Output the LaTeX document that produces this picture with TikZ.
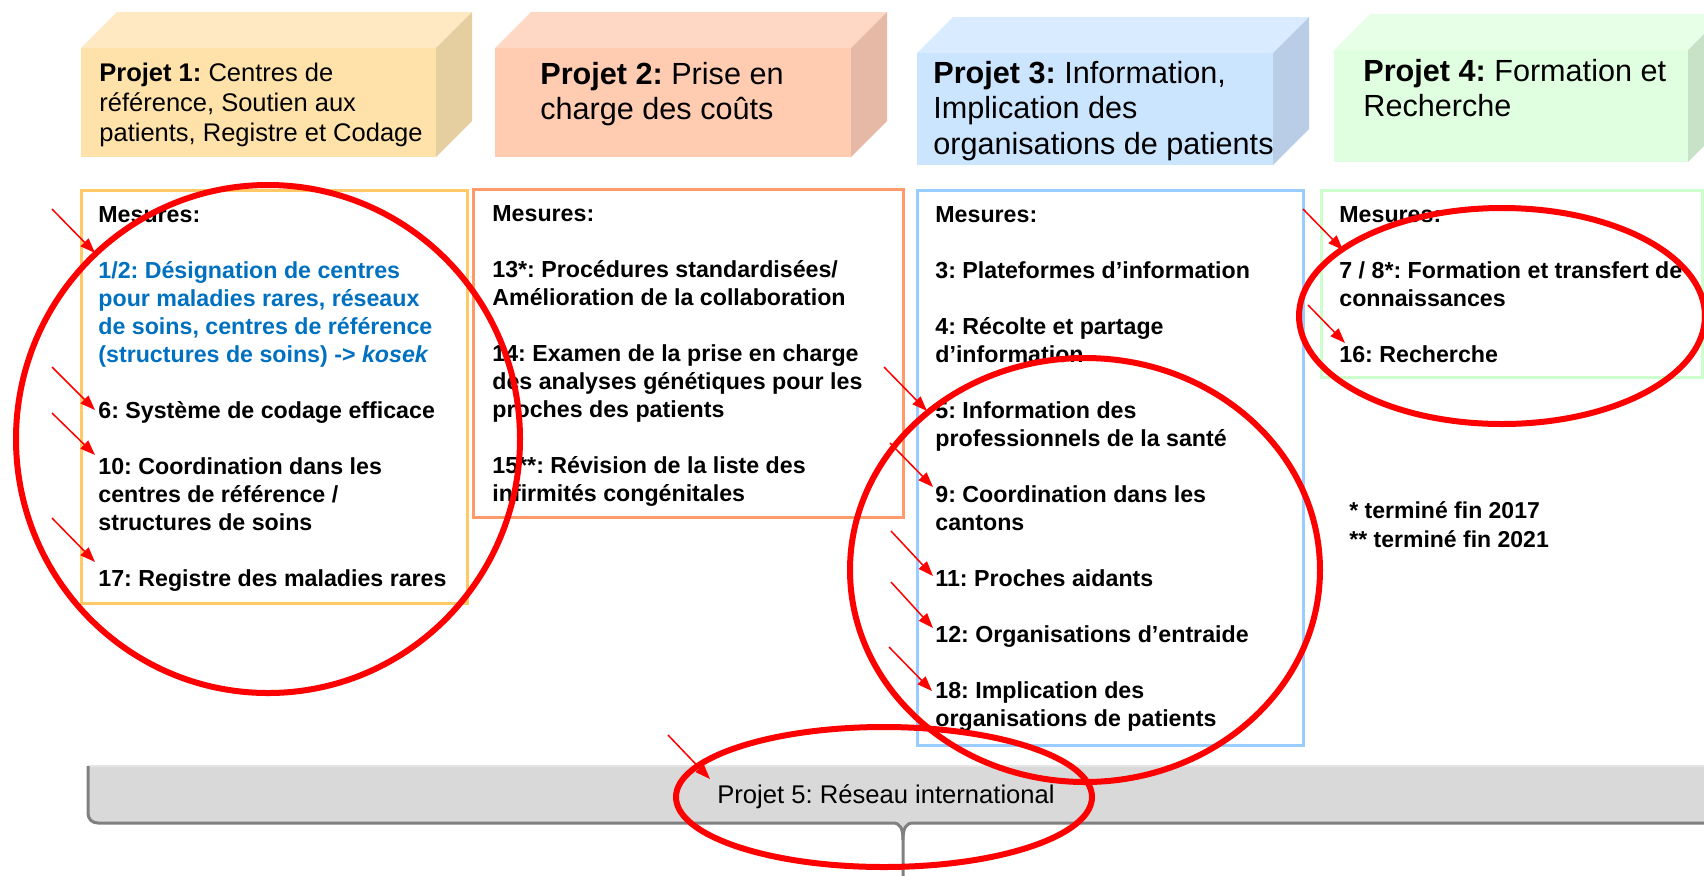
\documentclass[tikz,border=0pt]{standalone}
\usepackage{fontspec}
\setmainfont{Liberation Sans}
\frenchspacing
\usetikzlibrary{arrows.meta}
\definecolor{pAfront}{HTML}{FFE2A9}
\definecolor{pAtop}{HTML}{FFE9C2}
\definecolor{pAside}{HTML}{E5CFA1}
\definecolor{pBfront}{HTML}{FFCCB2}
\definecolor{pBtop}{HTML}{FFD8C5}
\definecolor{pBside}{HTML}{E5B9A6}
\definecolor{pCfront}{HTML}{CCE5FF}
\definecolor{pCtop}{HTML}{D9EBFF}
\definecolor{pCside}{HTML}{B9CEE6}
\definecolor{pDfront}{HTML}{E0FFE0}
\definecolor{pDtop}{HTML}{E6FFE6}
\definecolor{pDside}{HTML}{C8E2C8}
\definecolor{bordA}{HTML}{FFC966}
\definecolor{bordB}{HTML}{FF9B6A}
\definecolor{bordC}{HTML}{99CCFF}
\definecolor{bordD}{HTML}{CCFFCC}
\definecolor{blueT}{HTML}{0070C0}
\definecolor{barfill}{HTML}{D9D9D9}
\definecolor{barline}{HTML}{808080}
\definecolor{redA}{HTML}{FF0000}
\begin{document}
\begin{tikzpicture}[x=0.5pt,y=-0.5pt,
  meas/.style={anchor=base west, inner sep=0pt, align=left, font=\fontsize{11.6}{14}\selectfont\bfseries},
  titleA/.style={anchor=base west, inner sep=0pt, align=left, font=\fontsize{12.75}{15}\selectfont},
  titleB/.style={anchor=base west, inner sep=0pt, align=left, font=\fontsize{15.3}{17.75}\selectfont},
  mbox/.style={line width=1.5pt},
  redarrow/.style={draw=redA, line width=0.75pt, -{Triangle[length=7.5pt,width=5.5pt]}},
  redring/.style={draw=redA, line width=3pt}]
\useasboundingbox (0,0) rectangle (1704,875);
\clip (0,0) rectangle (1704,875);

% ---- Project title blocks (3D boxes)
\fill[pAtop] (81,48) -- (117,12) -- (472,12) -- (436,48) -- cycle;
\fill[pAside] (436,48) -- (472,12) -- (472,121) -- (436,157) -- cycle;
\fill[pAfront] (81,48) rectangle (436,157);

\fill[pBtop] (495,48) -- (531,12) -- (887,12) -- (851,48) -- cycle;
\fill[pBside] (851,48) -- (887,12) -- (887,121) -- (851,157) -- cycle;
\fill[pBfront] (495,48) rectangle (851,157);

\fill[pCtop] (917,53) -- (953,17) -- (1309,17) -- (1273,53) -- cycle;
\fill[pCside] (1273,53) -- (1309,17) -- (1309,129) -- (1273,165) -- cycle;
\fill[pCfront] (917,53) rectangle (1273,165);

\fill[pDtop] (1334,50) -- (1370,14) -- (1724,14) -- (1688,50) -- cycle;
\fill[pDside] (1688,50) -- (1724,14) -- (1724,126) -- (1688,162) -- cycle;
\fill[pDfront] (1334,50) rectangle (1688,162);

% anchors are at the baseline of the LAST line of each node
\node[titleA] (t1) at (99,141) {\textbf{Projet 1:} Centres de\\référence, Soutien aux\\patients, Registre et Codage};
\node[titleB] (t2) at (540,119.5) {\textbf{Projet 2:} Prise en\\charge des coûts};
\node[titleB] (t3) at (933,154) {\textbf{Projet 3:} Information,\\Implication des\\organisations de patients};
\node[titleB] (t4) at (1363,116.5) {\textbf{Projet 4:} Formation et\\Recherche};

% ---- Measure boxes
\draw[mbox, draw=bordA] (81,190) rectangle (467,603);
\draw[mbox, draw=bordB] (473,189) rectangle (903,517);
\draw[mbox, draw=bordC] (917,190) rectangle (1303,745);
\draw[mbox, draw=bordD] (1321,190) rectangle (1702,377);

\node[meas] (m1) at (98,586) {Mesures:\\[14pt]
{\color{blueT}1/2: Désignation de centres}\\
{\color{blueT}pour maladies rares, réseaux}\\
{\color{blueT}de soins, centres de référence}\\
{\color{blueT}(structures de soins) -> \textit{kosek}}\\[14pt]
6: Système de codage efficace\\[14pt]
10: Coordination dans les\\
centres de référence /\\
structures de soins\\[14pt]
17: Registre des maladies rares};

\node[meas] (m2) at (492,501) {Mesures:\\[14pt]
13*: Procédures standardisées/\\
Amélioration de la collaboration\\[14pt]
14: Examen de la prise en charge\\
des analyses génétiques pour les\\
proches des patients\\[14pt]
15**: Révision de la liste des\\
infirmités congénitales};

\node[meas] (m3) at (935,726) {Mesures:\\[14pt]
3: Plateformes d’information\\[14pt]
4: Récolte et partage\\
d’information\\[14pt]
5: Information des\\
professionnels de la santé\\[14pt]
9: Coordination dans les\\
cantons\\[14pt]
11: Proches aidants\\[14pt]
12: Organisations d’entraide\\[14pt]
18: Implication des\\
organisations de patients};

\node[meas] (m4) at (1339,362) {Mesures:\\[14pt]
7 / 8*: Formation et transfert de\\
connaissances\\[14pt]
16: Recherche};

\node[meas, font=\fontsize{11.5}{14.5}\selectfont\bfseries] (fn) at (1349,547) {* terminé fin 2017\\** terminé fin 2021};

% ---- Bottom bracket (Projet 5)
\fill[barfill] (88,766) -- (88,813) .. controls (88,819) and (92,823) .. (98,823)
  -- (893,823) .. controls (900,823) and (903,828) .. (903,840)
  .. controls (903,828) and (906,823) .. (913,823) -- (1712,823) -- (1712,766) -- cycle;
\draw[draw=white!90!black, line width=0.8pt] (88,766) -- (1712,766);
\draw[draw=barline, line width=1.5pt] (88,766) -- (88,813) .. controls (88,819) and (92,823) .. (98,823)
  -- (893,823) .. controls (900,823) and (903,828) .. (903,840) -- (903,880);
\draw[draw=barline, line width=1.5pt] (903,840) .. controls (903,828) and (906,823) .. (913,823) -- (1712,823);
\node[anchor=base, inner sep=0pt, font=\fontsize{12.8}{15}\selectfont] (p5) at (886,803) {Projet 5: Réseau international};

% ---- Red annotations
\draw[redring] (268,439) ellipse [x radius=126pt, y radius=127pt];
\draw[redring] (1085,570) ellipse [x radius=117.5pt, y radius=106pt];
\draw[redring] (1502,316) ellipse [x radius=101.5pt, y radius=54pt];
\draw[redring] (884,797) ellipse [x radius=104pt, y radius=35pt];

\coordinate (a1s) at (52,209);   \coordinate (a1e) at (95,253);
\coordinate (a2s) at (52,367);   \coordinate (a2e) at (95,410);
\coordinate (a3s) at (52,413);   \coordinate (a3e) at (95,455);
\coordinate (a4s) at (52,518);   \coordinate (a4e) at (95,562);
\coordinate (a5s) at (884,367);  \coordinate (a5e) at (927,411);
\coordinate (a6s) at (890,443);  \coordinate (a6e) at (933,487);
\coordinate (a7s) at (891,531);  \coordinate (a7e) at (933,576);
\coordinate (a8s) at (891,582);  \coordinate (a8e) at (933,628);
\coordinate (a9s) at (889,647);  \coordinate (a9e) at (932,691);
\coordinate (a10s) at (1303,209); \coordinate (a10e) at (1343,250);
\coordinate (a11s) at (1308,305); \coordinate (a11e) at (1345,343);
\coordinate (a12s) at (668,735);  \coordinate (a12e) at (710,779);
\foreach \i in {1,...,12} {\draw[redarrow] (a\i s) -- (a\i e);}
\end{tikzpicture}
\end{document}
